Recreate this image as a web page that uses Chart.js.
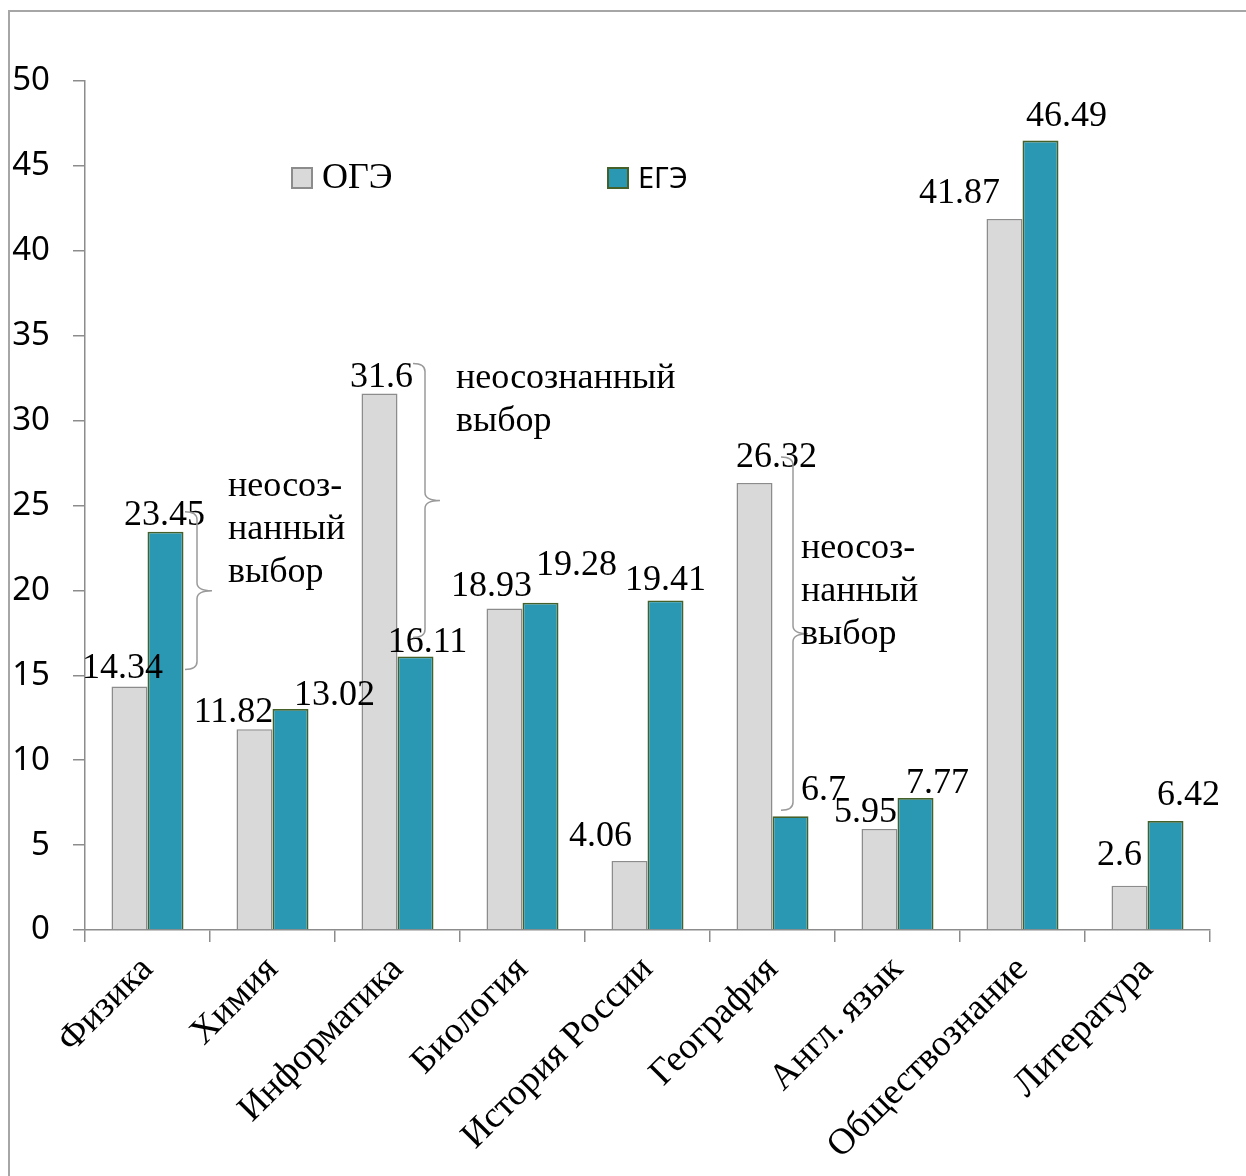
<!DOCTYPE html>
<html>
<head>
<meta charset="utf-8">
<script src="https://cdn.jsdelivr.net/npm/chart.js@4.4.1/dist/chart.umd.min.js"></script>
<style>
	html, body { margin: 0; padding: 0; background: #fff; overflow: hidden; }
	#wrap { position: relative; width: 1246px; height: 1176px; }
	#frame { position: absolute; left: 8px; top: 10px; width: 1400px; height: 1400px; border: 2px solid #a6a6a6; box-sizing: border-box; }
	#chart { position: absolute; left: 0; top: 0; }
</style>
</head>
<body>
<div id="wrap">
	<div id="frame"></div>
	<canvas id="chart" width="1246" height="1176"></canvas>
</div>
<script>
const categories = ['Физика', 'Химия', 'Информатика', 'Биология', 'История России', 'География', 'Англ. язык', 'Обществознание', 'Литература'];
const ogeValues = [14.34, 11.82, 31.6, 18.93, 4.06, 26.32, 5.95, 41.87, 2.6];
const egeValues = [23.45, 13.02, 16.11, 19.28, 19.41, 6.7, 7.77, 46.49, 6.42];
const yTicks = [0, 5, 10, 15, 20, 25, 30, 35, 40, 45, 50];

// categories with a brace ("неосознанный выбор") and the text next to it
const braceCats = [0, 2, 5];
const braceTexts = [['неосоз-', 'нанный', 'выбор'], ['неосознанный', 'выбор'], ['неосоз-', 'нанный', 'выбор']];

// hand-moved label / brace offsets in pixels (as in the original)
const ogeLabelShift = [[-7, -9], [-21, -7], [2, -6], [-13, -13], [-29, -15], [22, -16], [-14, -7], [-45, -16], [-10, -21]];
const egeLabelShift = [[-1, -7], [44, -4], [12, -4], [36, -28], [0, -10], [33, -16], [22, -5], [26, -15], [23, -16]];
const braceLayout = [
	{dx: 49.5, top: -20, bottom: -17, tx: 16, ty: -95},
	{dx: 27.5, top: -30, bottom: -19, tx: 16, ty: -112},
	{dx: 20.5, top: -26, bottom: -6, tx: -7, ty: -76}
];

const SERIF = '"Liberation Serif", "Times New Roman", serif';
const SANS = '"Noto Sans", "Open Sans", sans-serif';

const labelsPlugin = {
	id: 'labels',
	afterDatasetsDraw(chart) {
		const ctx = chart.ctx;
		const shifts = [ogeLabelShift, egeLabelShift];
		ctx.save();
		ctx.fillStyle = '#000';
		ctx.font = '36px ' + SERIF;
		ctx.textAlign = 'center';
		ctx.textBaseline = 'alphabetic';
		chart.data.datasets.forEach((ds, d) => {
			chart.getDatasetMeta(d).data.forEach((bar, i) => {
				const s = shifts[d][i];
				ctx.fillText(String(ds.data[i]), bar.x + s[0], bar.y + s[1]);
			});
		});

		// braces
		const xs = chart.scales.x, ys = chart.scales.y;
		ctx.strokeStyle = '#9a9a9a';
		ctx.lineWidth = 1.5;
		braceCats.forEach((c, k) => {
			const L = braceLayout[k];
			const hi = Math.max(ogeValues[c], egeValues[c]);
			const lo = Math.min(ogeValues[c], egeValues[c]);
			const x = xs.getPixelForValue(c) + L.dx;
			const y1 = ys.getPixelForValue(hi) + L.top;
			const y2 = ys.getPixelForValue(lo) + L.bottom;
			const ym = (y1 + y2) / 2;
			const w = 12, t = 15, r = 8;
			ctx.beginPath();
			ctx.moveTo(x - w, y1);
			ctx.quadraticCurveTo(x, y1, x, y1 + r);
			ctx.lineTo(x, ym - r);
			ctx.quadraticCurveTo(x, ym, x + t, ym);
			ctx.quadraticCurveTo(x, ym, x, ym + r);
			ctx.lineTo(x, y2 - r);
			ctx.quadraticCurveTo(x, y2, x - w, y2);
			ctx.stroke();

			ctx.textAlign = 'left';
			braceTexts[k].forEach((line, j) => {
				ctx.fillText(line, x + t + L.tx, ym + L.ty + j * 43);
			});
		});

		// legend inside the plot
		const area = chart.chartArea;
		const items = [
			{x: area.left + 207, font: '36px ' + SERIF},
			{x: area.left + 523, font: '29px ' + SANS}
		];
		chart.data.datasets.forEach((ds, d) => {
			const it = items[d];
			const top = area.top + 87;
			ctx.fillStyle = ds.backgroundColor;
			ctx.strokeStyle = ds.borderColor;
			ctx.lineWidth = 2;
			ctx.fillRect(it.x, top, 20, 20);
			ctx.strokeRect(it.x, top, 20, 20);
			ctx.fillStyle = '#000';
			ctx.font = it.font;
			ctx.textAlign = 'left';
			ctx.fillText(ds.label, it.x + 30, top + 20);
		});
		ctx.restore();
	}
};

new Chart(document.getElementById('chart'), {
	type: 'bar',
	data: {
		labels: categories,
		datasets: [{
			label: 'ОГЭ',
			data: ogeValues,
			backgroundColor: '#d9d9d9',
			borderColor: '#8c8c8c',
			borderWidth: 1.5
		}, {
			label: 'ЕГЭ',
			data: egeValues,
			backgroundColor: '#2a98b3',
			borderColor: '#46602a',
			borderWidth: 1.8
		}]
	},
	options: {
		responsive: false,
		animation: false,
		layout: {padding: {top: 81, right: 36, left: 0, bottom: 0}},
		plugins: {legend: {display: false}, tooltip: {enabled: false}},
		datasets: {bar: {categoryPercentage: 0.576, barPercentage: 1}},
		scales: {
			x: {
				grid: {drawOnChartArea: false, drawTicks: true, tickLength: 12, color: '#8c8c8c', lineWidth: 1.5},
				border: {color: '#8c8c8c', width: 1.5},
				ticks: {
					color: '#000',
					font: {family: SERIF, size: 37},
					minRotation: 45,
					maxRotation: 45,
					padding: 6,
					autoSkip: false
				},
				afterFit(scale) { scale.height = 246; }
			},
			y: {
				min: 0,
				max: 50,
				afterBuildTicks(scale) { scale.ticks = yTicks.map(v => ({value: v})); },
				grid: {drawOnChartArea: false, drawTicks: true, tickLength: 12, color: '#8c8c8c', lineWidth: 1.5},
				border: {color: '#8c8c8c', width: 1.5},
				ticks: {color: '#000', font: {family: SANS, size: 33}, padding: 23},
				afterFit(scale) { scale.width = 85; }
			}
		}
	},
	plugins: [labelsPlugin]
});
</script>
</body>
</html>
